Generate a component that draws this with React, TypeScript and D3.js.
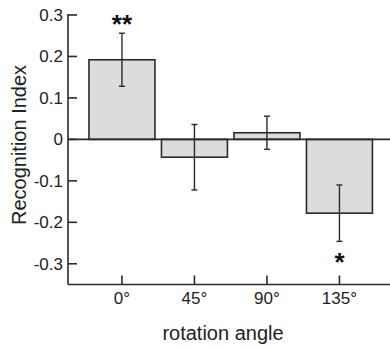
import React from "react";
import * as d3 from "d3";

const categories = ["0°", "45°", "90°", "135°"];
const means = [0.192, -0.043, 0.016, -0.178];
const errors = [0.064, 0.079, 0.04, 0.068];
const stars = ["**", "", "", "*"];
const yTicks = [0.3, 0.2, 0.1, 0, -0.1, -0.2, -0.3];

const W = 390;
const H = 348;

export default function App() {
  const left = 68;
  const y = d3.scaleLinear().domain([-0.35, 0.3]).range([284.5, 15]);
  const x = d3
    .scaleBand<string>()
    .domain(categories)
    .range([85.7, 375.7])
    .paddingInner(0.09)
    .paddingOuter(0.045);
  const bottom = y(-0.35);
  const zero = y(0);
  const stroke = "#2a2a2a";
  const font = "Liberation Sans, Arial, sans-serif";
  return (
    <svg
      width={W}
      height={H}
      style={{ position: "absolute", left: 0, top: 0, background: "#fff" }}
      fontFamily={font}
    >
      {/* bars */}
      {categories.map((c, i) => {
        const v = means[i];
        const x0 = x(c)!;
        return (
          <rect
            key={c}
            x={x0}
            y={Math.min(y(v), zero)}
            width={x.bandwidth()}
            height={Math.abs(y(v) - zero)}
            fill="#dcdcdc"
            stroke={stroke}
            strokeWidth={1.6}
          />
        );
      })}
      {/* zero line */}
      <line x1={left} x2={W} y1={zero} y2={zero} stroke={stroke} strokeWidth={1.6} />
      {/* error bars */}
      {categories.map((c, i) => {
        const cx = x(c)! + x.bandwidth() / 2;
        const hi = y(means[i] + errors[i]);
        const lo = y(means[i] - errors[i]);
        return (
          <g key={c} stroke={stroke} strokeWidth={1.4}>
            <line x1={cx} x2={cx} y1={hi} y2={lo} />
            <line x1={cx - 3} x2={cx + 3} y1={hi} y2={hi} />
            <line x1={cx - 3} x2={cx + 3} y1={lo} y2={lo} />
          </g>
        );
      })}
      {/* significance stars */}
      {categories.map((c, i) => {
        if (!stars[i]) return null;
        const cx = x(c)! + x.bandwidth() / 2;
        const v = means[i];
        const ty = v > 0 ? y(v + errors[i]) : y(v - errors[i]) + 30;
        return (
          <text
            key={c}
            x={cx}
            y={ty}
            textAnchor="middle"
            fontSize={26}
            fontWeight="bold"
            fill="#111"
          >
            {stars[i]}
          </text>
        );
      })}
      {/* y axis */}
      <line x1={left} x2={left} y1={y(0.3) - 1} y2={bottom} stroke={stroke} strokeWidth={1.6} />
      {yTicks.map((t) => (
        <g key={t}>
          <line x1={left} x2={left + 9} y1={y(t)} y2={y(t)} stroke={stroke} strokeWidth={1.6} />
          <text
            x={left - 5}
            y={y(t)}
            dy="0.35em"
            textAnchor="end"
            fontSize={17}
            fill="#222"
          >
            {t === 0 ? "0" : d3.format(".1f")(t).replace("−", "-")}
          </text>
        </g>
      ))}
      {/* x axis */}
      <line x1={left} x2={W} y1={bottom} y2={bottom} stroke={stroke} strokeWidth={1.6} />
      {categories.map((c) => {
        const cx = x(c)! + x.bandwidth() / 2;
        return (
          <g key={c}>
            <line x1={cx} x2={cx} y1={bottom} y2={bottom - 9} stroke={stroke} strokeWidth={1.6} />
            <text x={cx} y={bottom + 14} dy="0.35em" textAnchor="middle" fontSize={17} fill="#222">
              {c}
            </text>
          </g>
        );
      })}
      <text x={223} y={340} textAnchor="middle" fontSize={20} fill="#222">
        rotation angle
      </text>
      <text
        transform={`translate(26,145) rotate(-90)`}
        textAnchor="middle"
        fontSize={20}
        fill="#222"
      >
        Recognition Index
      </text>
    </svg>
  );
}
